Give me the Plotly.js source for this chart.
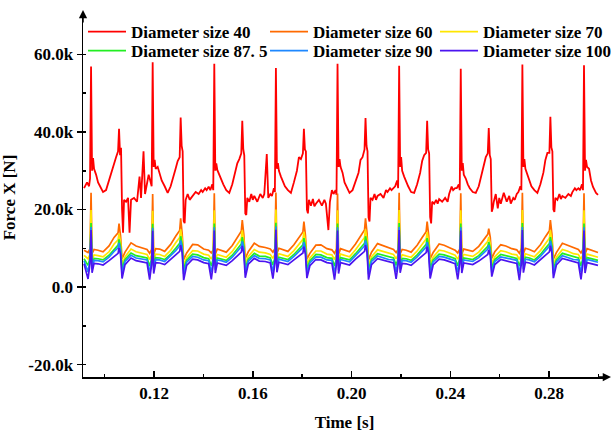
<!DOCTYPE html>
<html><head><meta charset="utf-8">
<script src="https://cdn.plot.ly/plotly-3.0.1.min.js"></script>
<style>html,body{margin:0;padding:0;background:#fff}#chart{width:612px;height:439px}</style>
</head><body><div id="chart"></div>
<script>
// Time in milliseconds, force in kN (k units)
const time40 = [91.66,
 92.88, 93.69, 94.09, 94.50, 94.91, 95.31, 95.72, 96.53, 97.34, 98.15, 99.36, 100.58, 101.79, 103.01, 103.82, 104.63, 105.44, 105.84, 106.25, 106.65, 107.06, 107.46, 107.87, 108.68, 109.49, 110.09, 110.70, 111.92, 113.13, 114.14, 114.75, 115.76, 116.37, 117.18,
 117.84, 118.65, 119.05, 119.46, 119.87, 120.27, 120.68, 121.49, 122.30, 123.11, 124.32, 125.54, 126.75, 127.97, 128.78, 129.59, 130.40, 130.80, 131.21, 131.61, 132.02, 132.42, 132.83, 133.64, 134.45, 135.05, 135.66, 136.88, 138.09, 139.10, 139.71, 140.72, 141.33, 142.14,
 142.80, 143.61, 144.01, 144.42, 144.83, 145.23, 145.64, 146.45, 147.26, 148.07, 149.28, 150.50, 151.71, 152.93, 153.74, 154.55, 155.36, 155.76, 156.17, 156.57, 156.98, 157.38, 157.79, 158.60, 159.41, 160.01, 160.62, 161.84, 163.05, 164.06, 164.67, 165.68, 166.29, 167.10,
 167.76, 168.57, 168.97, 169.38, 169.79, 170.19, 170.60, 171.41, 172.22, 173.03, 174.24, 175.46, 176.67, 177.89, 178.70, 179.51, 180.32, 180.72, 181.13, 181.53, 181.94, 182.34, 182.75, 183.56, 184.37, 184.97, 185.58, 186.80, 188.01, 189.02, 189.63, 190.64, 191.25, 192.06,
 192.72, 193.53, 193.93, 194.34, 194.75, 195.15, 195.56, 196.37, 197.18, 197.99, 199.20, 200.42, 201.63, 202.85, 203.66, 204.47, 205.28, 205.68, 206.09, 206.49, 206.90, 207.30, 207.71, 208.52, 209.33, 209.93, 210.54, 211.76, 212.97, 213.98, 214.59, 215.60, 216.21, 217.02,
 217.68, 218.49, 218.89, 219.30, 219.71, 220.11, 220.52, 221.33, 222.14, 222.95, 224.16, 225.38, 226.59, 227.81, 228.62, 229.43, 230.24, 230.64, 231.05, 231.45, 231.86, 232.26, 232.67, 233.48, 234.29, 234.89, 235.50, 236.72, 237.93, 238.94, 239.55, 240.56, 241.17, 241.98,
 242.64, 243.45, 243.85, 244.26, 244.67, 245.07, 245.48, 246.29, 247.10, 247.91, 249.12, 250.34, 251.55, 252.77, 253.58, 254.39, 255.20, 255.60, 256.01, 256.41, 256.82, 257.22, 257.63, 258.44, 259.25, 259.85, 260.46, 261.68, 262.89, 263.90, 264.51, 265.52, 266.13, 266.94,
 267.60, 268.41, 268.81, 269.22, 269.63, 270.03, 270.44, 271.25, 272.06, 272.87, 274.08, 275.30, 276.51, 277.73, 278.54, 279.35, 280.16, 280.56, 280.97, 281.37, 281.78, 282.18, 282.59, 283.40, 284.21, 284.81, 285.42, 286.64, 287.85, 288.86, 289.47, 290.48, 291.09, 291.90,
 292.56, 293.37, 293.77, 294.18, 294.59, 294.99, 295.40, 296.21, 297.02, 297.83, 299.04, 299.85];

const force40 = [25.5,
 27, 26, 28, 56.9, 30, 33.3, 30.5, 29, 27, 26, 24.5, 25, 27.6, 30.6, 32, 33.5, 35, 40.8, 34, 35.9, 20, 14, 22.5, 22, 23, 14, 22.5, 23, 22, 28.5, 23, 35, 24, 27,
 29, 27, 26, 58, 31, 32.8, 30.5, 31, 29, 27.5, 26, 24.3, 26, 28.5, 30.6, 32.5, 33.5, 43.7, 36.4, 35, 17, 16.5, 22.5, 24, 22.5, 23, 23.5, 24.5, 24, 25, 24.5, 25.5, 25, 25.9,
 25, 26.5, 25, 57.6, 30, 31.9, 30.2, 29, 27.5, 26.5, 25, 24.3, 26.5, 29.5, 31.9, 33, 34.5, 42.9, 35.5, 34, 19, 18.6, 23, 22, 24, 22.5, 23.5, 22, 24, 23, 24, 34.3, 23, 24,
 23.5, 25.5, 24.5, 56.5, 30.5, 32, 30, 28.5, 27, 26, 25, 24.3, 27, 30, 33.5, 33, 34.5, 40.8, 35.5, 35, 20, 19, 22.5, 21, 22.7, 20.8, 21.5, 22.5, 21, 22.5, 21.5, 14.7, 22, 25,
 24, 25, 23.8, 57.6, 31, 33, 31, 29.5, 27, 26, 24.3, 25, 27, 29.5, 32.8, 33.5, 35.5, 43.6, 36.4, 35, 18, 16.9, 23, 22.5, 24, 22.5, 23.5, 24, 23, 25, 24.5, 25.5, 25, 25.5,
 26, 27.5, 25.5, 57.1, 31, 33.5, 30, 28.5, 27, 26, 24.5, 24.3, 26.5, 29.5, 32.5, 34, 34.6, 42.9, 35.5, 34.5, 18, 16.4, 22, 21.5, 22.5, 21.5, 22.7, 22, 23, 22, 24, 25.9, 25, 25.5,
 25.5, 26.5, 25, 56.3, 30, 32, 29, 28, 26.5, 25.5, 24.5, 24.3, 26, 29.5, 32, 33.5, 34.5, 41, 34, 33, 19.4, 20.3, 22, 24, 20.3, 23, 21.5, 24.3, 22, 23.5, 21.5, 23, 22.5, 24,
 24.5, 26, 25, 57.4, 31, 33, 30.5, 29, 27, 26, 25, 24.3, 26.5, 29.5, 32.8, 34.6, 34.6, 43.9, 36, 35, 20, 19.4, 23, 22.5, 24, 22.7, 23.5, 23, 24, 23.5, 24.5, 25.5, 25, 25.5,
 25, 26.5, 25, 57.2, 30, 32.8, 31, 30.5, 27.5, 25.8, 24.3, 23.8];

const timeLow = [91.66,
 93.28, 94.09, 94.50, 94.91, 95.72, 97.34, 99.36, 101.79, 103.82, 105.44, 105.84, 106.45, 107.06, 108.27, 110.70, 112.73, 115.16, 117.18,
 118.24, 119.05, 119.46, 119.87, 120.68, 122.30, 124.32, 126.75, 128.78, 130.40, 130.80, 131.41, 132.02, 133.23, 135.66, 137.69, 140.12, 142.14,
 143.20, 144.01, 144.42, 144.83, 145.64, 147.26, 149.28, 151.71, 153.74, 155.36, 155.76, 156.37, 156.98, 158.19, 160.62, 162.65, 165.08, 167.10,
 168.16, 168.97, 169.38, 169.79, 170.60, 172.22, 174.24, 176.67, 178.70, 180.32, 180.72, 181.33, 181.94, 183.15, 185.58, 187.61, 190.04, 192.06,
 193.12, 193.93, 194.34, 194.75, 195.56, 197.18, 199.20, 201.63, 203.66, 205.28, 205.68, 206.29, 206.90, 208.11, 210.54, 212.57, 215.00, 217.02,
 218.08, 218.89, 219.30, 219.71, 220.52, 222.14, 224.16, 226.59, 228.62, 230.24, 230.64, 231.25, 231.86, 233.07, 235.50, 237.53, 239.96, 241.98,
 243.04, 243.85, 244.26, 244.67, 245.48, 247.10, 249.12, 251.55, 253.58, 255.20, 255.60, 256.21, 256.82, 258.03, 260.46, 262.49, 264.92, 266.94,
 268.00, 268.81, 269.22, 269.63, 270.44, 272.06, 274.08, 276.51, 278.54, 280.16, 280.56, 281.17, 281.78, 282.99, 285.42, 287.45, 289.88, 291.90,
 292.96, 293.77, 294.18, 294.59, 295.40, 297.02, 299.04, 299.85];

const force60 = [9.5,
 8.9, 9.9, 24.3, 8.6, 9.7, 9.5, 9.1, 10.6, 12.8, 14.0, 16.4, 13.2, 7.3, 9.0, 11.4, 10.6, 10.1, 9.7,
 8.7, 9.7, 24.0, 8.4, 9.9, 9.8, 9.2, 11.0, 13.1, 14.6, 17.7, 13.8, 7.1, 8.8, 11.0, 10.9, 9.8, 9.5,
 8.8, 9.6, 24.2, 8.5, 9.8, 9.4, 9.0, 10.7, 12.9, 14.4, 17.3, 13.6, 7.4, 9.1, 11.3, 10.5, 10.2, 9.8,
 9.0, 9.9, 24.4, 8.7, 10.0, 9.7, 9.2, 10.9, 12.7, 14.2, 16.9, 13.4, 7.2, 8.7, 10.8, 10.9, 9.9, 9.6,
 8.7, 9.8, 24.1, 8.4, 9.9, 9.6, 9.1, 11.1, 13.0, 14.7, 17.7, 13.9, 7.0, 9.0, 11.2, 10.7, 10.0, 9.7,
 8.9, 9.7, 24.3, 8.6, 9.7, 9.5, 9.0, 10.8, 12.8, 14.3, 16.9, 13.5, 7.3, 8.9, 11.1, 10.8, 10.1, 9.5,
 8.8, 9.8, 24.2, 8.5, 9.8, 9.6, 9.2, 10.5, 12.2, 13.6, 15.1, 12.8, 7.4, 9.1, 10.9, 10.6, 9.9, 9.6,
 8.7, 9.9, 24.3, 8.6, 10.0, 9.7, 9.1, 10.9, 13.0, 14.5, 17.3, 13.7, 7.2, 8.9, 11.3, 10.8, 10.0, 9.7,
 8.8, 9.8, 24.2, 8.5, 9.9, 9.6, 9.1, 8.9];

const force70 = [8.2,
 7.3, 8.5, 19.9, 7.1, 8.3, 8.1, 7.8, 9.1, 11.1, 12.2, 13.8, 11.6, 5.9, 7.8, 9.8, 9.1, 8.7, 8.4,
 7.1, 8.3, 19.7, 6.9, 8.5, 8.4, 7.9, 9.5, 11.4, 12.8, 14.9, 12.1, 5.7, 7.6, 9.4, 9.3, 8.5, 8.2,
 7.2, 8.3, 19.8, 7.0, 8.4, 8.1, 7.7, 9.2, 11.2, 12.5, 14.6, 11.9, 6.0, 7.9, 9.7, 9.0, 8.8, 8.4,
 7.4, 8.5, 20.0, 7.2, 8.6, 8.3, 7.9, 9.4, 11.0, 12.3, 14.2, 11.7, 5.8, 7.5, 9.3, 9.3, 8.5, 8.3,
 7.1, 8.4, 19.8, 6.9, 8.5, 8.2, 7.8, 9.6, 11.3, 12.8, 14.9, 12.2, 5.6, 7.8, 9.6, 9.2, 8.6, 8.4,
 7.3, 8.3, 19.9, 7.1, 8.3, 8.1, 7.7, 9.3, 11.1, 12.4, 14.2, 11.8, 5.9, 7.7, 9.5, 9.3, 8.7, 8.2,
 7.2, 8.4, 19.8, 7.0, 8.4, 8.2, 7.9, 9.0, 10.6, 11.8, 12.9, 11.2, 6.0, 7.8, 9.4, 9.1, 8.5, 8.3,
 7.1, 8.5, 19.9, 7.1, 8.6, 8.3, 7.8, 9.4, 11.3, 12.6, 14.6, 12.0, 5.8, 7.7, 9.7, 9.3, 8.6, 8.4,
 7.2, 8.4, 19.8, 7.0, 8.5, 8.2, 7.8, 7.7];

const force875 = [7.3,
 5.6, 7.5, 16.5, 5.6, 7.4, 7.3, 7.0, 8.2, 9.8, 10.8, 12.3, 10.4, 4.7, 7.1, 8.8, 8.1, 7.8, 7.5,
 5.4, 7.3, 16.3, 5.4, 7.6, 7.5, 7.1, 8.5, 10.0, 11.3, 13.1, 10.9, 4.5, 6.9, 8.5, 8.3, 7.6, 7.3,
 5.5, 7.3, 16.4, 5.5, 7.5, 7.3, 6.9, 8.2, 9.9, 11.1, 12.9, 10.7, 4.8, 7.2, 8.7, 8.0, 7.9, 7.5,
 5.7, 7.5, 16.6, 5.7, 7.7, 7.4, 7.1, 8.4, 9.7, 10.9, 12.6, 10.5, 4.6, 6.8, 8.4, 8.3, 7.6, 7.4,
 5.4, 7.4, 16.4, 5.4, 7.6, 7.4, 7.0, 8.6, 10.0, 11.3, 13.1, 11.0, 4.4, 7.1, 8.6, 8.2, 7.7, 7.5,
 5.6, 7.3, 16.5, 5.6, 7.4, 7.3, 6.9, 8.3, 9.8, 11.0, 12.6, 10.6, 4.7, 7.0, 8.5, 8.3, 7.8, 7.3,
 5.5, 7.4, 16.4, 5.5, 7.5, 7.4, 7.1, 8.1, 9.4, 10.5, 11.6, 10.1, 4.8, 7.1, 8.4, 8.1, 7.6, 7.4,
 5.4, 7.5, 16.5, 5.6, 7.7, 7.5, 7.0, 8.4, 10.0, 11.2, 12.9, 10.8, 4.6, 7.0, 8.7, 8.3, 7.7, 7.5,
 5.5, 7.4, 16.4, 5.5, 7.6, 7.4, 7.0, 6.9];

const force90 = [6.8,
 3.9, 7.0, 15.5, 4.6, 6.9, 6.8, 6.5, 7.7, 9.2, 10.1, 11.4, 9.6, 3.6, 6.6, 8.2, 7.5, 7.2, 7.0,
 3.7, 6.8, 15.3, 4.4, 7.1, 7.0, 6.6, 8.0, 9.4, 10.6, 12.0, 10.1, 3.4, 6.4, 7.9, 7.7, 7.0, 6.8,
 3.8, 6.8, 15.4, 4.5, 7.0, 6.8, 6.4, 7.7, 9.3, 10.4, 11.8, 9.9, 3.7, 6.7, 8.1, 7.4, 7.3, 7.0,
 4.0, 7.0, 15.6, 4.7, 7.2, 6.9, 6.6, 7.9, 9.1, 10.2, 11.6, 9.7, 3.5, 6.3, 7.8, 7.7, 7.0, 6.9,
 3.7, 6.9, 15.4, 4.4, 7.1, 6.9, 6.5, 8.1, 9.4, 10.6, 12.0, 10.2, 3.3, 6.6, 8.0, 7.6, 7.1, 7.0,
 3.9, 6.8, 15.5, 4.6, 6.9, 6.8, 6.4, 7.8, 9.2, 10.3, 11.6, 9.8, 3.6, 6.5, 7.9, 7.7, 7.2, 6.8,
 3.8, 6.9, 15.4, 4.5, 7.0, 6.9, 6.6, 7.6, 8.8, 9.8, 10.8, 9.4, 3.7, 6.6, 7.8, 7.5, 7.0, 6.9,
 3.7, 7.0, 15.5, 4.6, 7.2, 7.0, 6.5, 7.9, 9.4, 10.5, 11.9, 10.0, 3.5, 6.5, 8.1, 7.7, 7.1, 7.0,
 3.8, 6.9, 15.4, 4.5, 7.1, 6.9, 6.5, 6.4];

const force100 = [6.0,
 2.1, 6.1, 14.7, 3.7, 6.1, 6.0, 5.7, 6.8, 8.0, 8.7, 10.1, 8.4, 2.2, 5.8, 7.5, 6.8, 6.5, 6.2,
 1.9, 5.9, 14.5, 3.5, 6.3, 6.2, 5.8, 7.1, 8.2, 9.2, 10.8, 8.9, 1.8, 5.6, 7.2, 7.0, 6.3, 6.0,
 2.0, 5.9, 14.6, 3.6, 6.2, 6.0, 5.6, 6.8, 8.1, 9.0, 10.6, 8.7, 2.4, 5.9, 7.4, 6.7, 6.6, 6.2,
 2.2, 6.1, 14.8, 3.8, 6.4, 6.1, 5.8, 7.0, 7.9, 8.8, 10.4, 8.5, 2.3, 5.5, 7.1, 7.0, 6.3, 6.1,
 1.9, 6.0, 14.6, 3.5, 6.3, 6.1, 5.7, 7.2, 8.2, 9.2, 10.8, 9.0, 1.9, 5.8, 7.3, 6.9, 6.4, 6.2,
 2.1, 5.9, 14.7, 3.7, 6.1, 6.0, 5.6, 6.9, 8.0, 8.9, 10.4, 8.6, 2.2, 5.7, 7.2, 7.0, 6.5, 6.0,
 2.0, 6.0, 14.6, 3.6, 6.2, 6.1, 5.8, 6.7, 7.6, 8.4, 9.6, 8.2, 2.7, 5.8, 7.1, 6.8, 6.3, 6.1,
 1.8, 6.1, 14.7, 3.7, 6.4, 6.2, 5.7, 7.0, 8.2, 9.1, 10.7, 8.8, 2.3, 5.7, 7.4, 7.0, 6.4, 6.2,
 2.0, 6.0, 14.6, 3.6, 6.3, 6.1, 5.7, 5.6];

const seriesNames = ['Diameter size 40', 'Diameter size 60', 'Diameter size 70', 'Diameter size 87. 5', 'Diameter size 90', 'Diameter size 100'];
const yTickVals = [-20, 0, 20, 40, 60];
const yTickText = ['-20.0k', '0.0', '20.0k', '40.0k', '60.0k'];

const colors = ['#ff0000', '#ff6a00', '#ffe600', '#22ee22', '#1e88ff', '#4b14f0'];
const xs = [time40, timeLow, timeLow, timeLow, timeLow, timeLow];
const ys = [force40, force60, force70, force875, force90, force100];
const legendIds = ['legend', 'legend2', 'legend3', 'legend4', 'legend5', 'legend6'];

const traces = seriesNames.map((n, i) => ({
  type: 'scatter', mode: 'lines', name: n,
  x: xs[i].map(v => v / 1000), y: ys[i],
  line: {color: colors[i], width: i === 0 ? 1.8 : 1.7},
  legend: legendIds[i]
}));

const FONT = 'Liberation Serif, Times New Roman, serif';
const TXT = {family: FONT, size: 17, color: '#000', weight: 'bold'};
const legBase = {orientation: 'v', bgcolor: 'rgba(0,0,0,0)', borderwidth: 0,
  font: TXT, xanchor: 'left', yanchor: 'middle', itemwidth: 38, itemclick: false};
const colX = [0.0, 0.348, 0.673];
const rowY = [0.961, 0.908];

const layout = {
  width: 612, height: 439,
  margin: {l: 83, r: 6, t: 18, b: 62, autoexpand: false},
  paper_bgcolor: '#fff', plot_bgcolor: '#fff',
  font: TXT,
  showlegend: true,
  xaxis: {
    range: [0.09124, 0.30309], showgrid: false, zeroline: false,
    showline: true, linecolor: '#000', linewidth: 1.5,
    ticks: 'inside', ticklen: 6, tickwidth: 1.5, tickcolor: '#000',
    tick0: 0.12, dtick: 0.04, tickformat: '.2f', ticklabelstandoff: 0,
    minor: {ticks: 'inside', ticklen: 3, tickwidth: 1.5, dtick: 0.02, tick0: 0.10, tickcolor: '#000'},
    tickfont: TXT,
    title: {text: 'Time [s]', font: TXT, standoff: 14}
  },
  yaxis: {
    range: [-23.2, 69.4], showgrid: false, zeroline: false,
    showline: true, linecolor: '#000', linewidth: 1.5,
    ticks: 'outside', ticklen: 5, tickwidth: 1.5, tickcolor: '#000',
    tickvals: yTickVals, ticktext: yTickText,
    minor: {ticks: 'inside', ticklen: 3, tickwidth: 1.5, dtick: 10, tick0: 0, tickcolor: '#000'},
    tickfont: TXT,
    title: {text: 'Force X [N]', font: TXT, standoff: 8}
  },
  annotations: [
    {xref: 'paper', yref: 'paper', x: 0, y: 1 + 8 / 359, axref: 'pixel', ayref: 'pixel', ax: 0, ay: 14,
     text: '', showarrow: true, arrowhead: 2, arrowsize: 1.1, arrowwidth: 1.5, arrowcolor: '#000'},
    {xref: 'paper', yref: 'paper', x: 1 + 5 / 523, y: 0, axref: 'pixel', ayref: 'pixel', ax: -14, ay: 0,
     text: '', showarrow: true, arrowhead: 2, arrowsize: 1.1, arrowwidth: 1.5, arrowcolor: '#000'}
  ]
};
legendIds.forEach((id, i) => {
  layout[id] = Object.assign({}, legBase, {x: colX[i % 3], y: rowY[Math.floor(i / 3)]});
});

Plotly.newPlot('chart', traces, layout, {displayModeBar: false, staticPlot: true});
</script>
</body></html>
